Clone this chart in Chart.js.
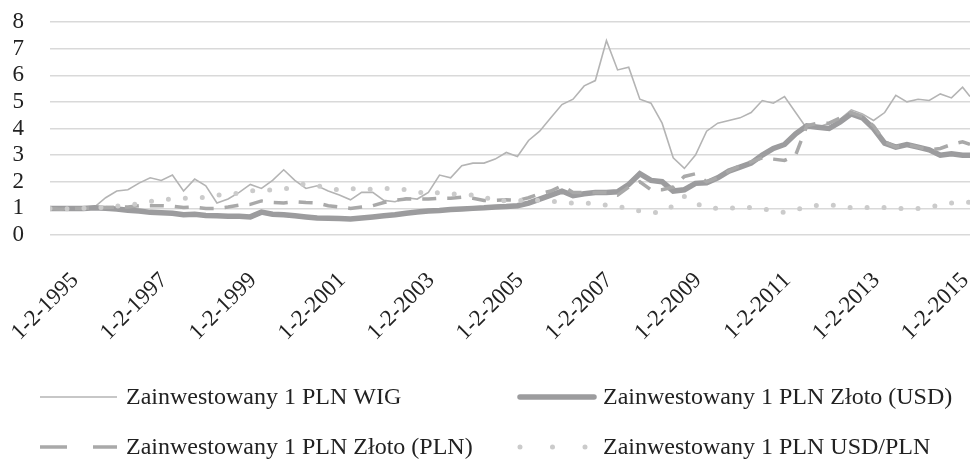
<!DOCTYPE html>
<html>
<head>
<meta charset="utf-8">
<script src="https://cdn.jsdelivr.net/npm/chart.js@4/dist/chart.umd.min.js"></script>
<style>
  html, body { margin:0; padding:0; background:#fff; }
  #wrap { width:975px; height:460px; }
</style>
</head>
<body>
<div id="wrap"><canvas id="chart" width="975" height="460"></canvas></div>
<script>
// Zainwestowany 1 PLN - WIG vs złoto vs USD/PLN (1995-2015)

// quarterly sample dates (YYYY-MM)
const DATES = [
  '1995-02','1995-05','1995-08','1995-11','1996-02','1996-05','1996-08','1996-11',
  '1997-02','1997-05','1997-08','1997-11','1998-02','1998-05','1998-08','1998-11',
  '1999-02','1999-05','1999-08','1999-11','2000-02','2000-05','2000-08','2000-11',
  '2001-02','2001-05','2001-08','2001-11','2002-02','2002-05','2002-08','2002-11',
  '2003-02','2003-05','2003-08','2003-11','2004-02','2004-05','2004-08','2004-11',
  '2005-02','2005-05','2005-08','2005-11','2006-02','2006-05','2006-08','2006-11',
  '2007-02','2007-05','2007-08','2007-11','2008-02','2008-05','2008-08','2008-11',
  '2009-02','2009-05','2009-08','2009-11','2010-02','2010-05','2010-08','2010-11',
  '2011-02','2011-05','2011-08','2011-11','2012-02','2012-05','2012-08','2012-11',
  '2013-02','2013-05','2013-08','2013-11','2014-02','2014-05','2014-08','2014-11',
  '2015-02','2015-05','2015-08','2015-10'
];

const WIG = [
  1.0,0.97,1.02,1.0, 1.05,1.4,1.65,1.7, 1.95,2.15,2.05,2.25, 1.65,2.1,1.85,1.2,
  1.35,1.6,1.9,1.75, 2.05,2.45,2.05,1.75, 1.85,1.65,1.5,1.32, 1.6,1.6,1.3,1.25,
  1.4,1.35,1.6,2.25, 2.15,2.6,2.7,2.7, 2.85,3.1,2.95,3.55, 3.9,4.4,4.9,5.1,
  5.6,5.8,7.3,6.2, 6.3,5.1,4.95,4.2, 2.9,2.5,3.0,3.9, 4.2,4.3,4.4,4.6,
  5.05,4.95,5.2,4.6, 4.0,4.05,4.2,4.35, 4.7,4.55,4.3,4.6, 5.25,5.0,5.1,5.05,
  5.3,5.15,5.55,5.2
];

const GOLD_USD = [
  1.0,1.0,1.0,1.0, 1.02,1.0,0.98,0.93, 0.9,0.85,0.84,0.82, 0.76,0.78,0.73,0.72,
  0.7,0.7,0.68,0.86, 0.78,0.76,0.72,0.68, 0.64,0.63,0.62,0.6, 0.64,0.68,0.72,0.76,
  0.82,0.86,0.9,0.92, 0.96,0.98,1.0,1.02, 1.05,1.07,1.1,1.2, 1.35,1.5,1.65,1.48,
  1.55,1.6,1.6,1.62, 1.9,2.3,2.05,2.0, 1.65,1.7,1.94,1.96, 2.15,2.4,2.55,2.7,
  3.0,3.25,3.4,3.8, 4.1,4.05,4.0,4.25, 4.55,4.4,4.0,3.45, 3.3,3.4,3.3,3.2,
  3.0,3.05,3.0,3.0
];

const GOLD_PLN = [
  1.0,0.97,1.0,1.0, 1.02,1.03,1.05,1.05, 1.1,1.1,1.1,1.08, 1.03,1.05,1.0,1.0,
  1.05,1.12,1.15,1.28, 1.22,1.2,1.25,1.22, 1.2,1.1,1.05,1.0, 1.05,1.1,1.22,1.3,
  1.35,1.35,1.35,1.38, 1.38,1.42,1.38,1.3, 1.3,1.32,1.3,1.4, 1.55,1.65,1.85,1.6,
  1.6,1.6,1.6,1.5, 1.8,2.0,1.7,1.7, 1.8,2.2,2.3,2.0, 2.15,2.4,2.6,2.75,
  2.9,2.85,2.8,3.0, 4.1,4.2,4.2,4.4, 4.6,4.45,4.1,3.5, 3.3,3.4,3.3,3.2,
  3.25,3.4,3.5,3.4
];

const USD_PLN = [
  1.0,0.98,0.99,1.0, 1.02,1.05,1.09,1.12, 1.18,1.26,1.3,1.37, 1.38,1.38,1.42,1.5,
  1.5,1.58,1.65,1.69, 1.69,1.72,1.84,1.93, 1.86,1.75,1.7,1.75, 1.7,1.72,1.75,1.75,
  1.7,1.63,1.52,1.6, 1.55,1.52,1.5,1.45, 1.25,1.3,1.32,1.25, 1.32,1.28,1.22,1.2,
  1.2,1.19,1.12,1.08, 0.98,0.9,0.84,0.86, 1.1,1.45,1.2,1.02, 1.0,1.0,1.05,1.03,
  0.98,0.92,0.85,0.95, 1.05,1.12,1.13,1.1, 1.02,1.02,1.05,1.03, 1.0,1.0,1.0,1.05,
  1.12,1.2,1.22,1.23
];

const SERIES_NAMES = [
  'Zainwestowany 1 PLN WIG',
  'Zainwestowany 1 PLN Złoto (USD)',
  'Zainwestowany 1 PLN Złoto (PLN)',
  'Zainwestowany 1 PLN USD/PLN'
];

const TICK_DATES = ['1995-02','1997-02','1999-02','2001-02','2003-02','2005-02','2007-02','2009-02','2011-02','2013-02','2015-02'];
const X_MIN = '1995-02', X_MAX = '2015-10';

function toYear(s) {
  const [y, m] = s.split('-').map(Number);
  return y + (m - 1) / 12;
}
function pts(values) {
  return values.map((v, i) => ({ x: toYear(DATES[i]), y: v }));
}

const FONT = '"Liberation Serif", "Times New Roman", serif';
const TEXT = '#222';

// legend drawn by hand: two columns, long line samples like in Excel
const legendPlugin = {
  id: 'excelLegend',
  afterDraw(chart) {
    const ctx = chart.ctx;
    const colX = [40, 517], rowY = [397, 447];
    chart.data.datasets.forEach((ds, i) => {
      const x = colX[i % 2], y = rowY[Math.floor(i / 2)];
      ctx.save();
      ctx.strokeStyle = ds.borderColor;
      ctx.lineWidth = ds.borderWidth;
      ctx.lineCap = ds.legendCap;
      ctx.setLineDash(ds.legendDash);
      ctx.beginPath();
      ctx.moveTo(x + (ds.legendCap === 'round' ? 3 : 0), y);
      ctx.lineTo(x + 77, y);
      ctx.stroke();
      ctx.setLineDash([]);
      ctx.fillStyle = TEXT;
      ctx.font = '24px ' + FONT;
      ctx.textBaseline = 'middle';
      ctx.fillText(ds.label, x + 86, y + 1);
      ctx.restore();
    });
  }
};

new Chart(document.getElementById('chart'), {
  type: 'line',
  data: {
    datasets: [
      { label: SERIES_NAMES[0], data: pts(WIG), borderColor: '#b4b4b4', borderWidth: 1.6,
        order: 4, legendDash: [], legendCap: 'butt' },
      { label: SERIES_NAMES[1], data: pts(GOLD_USD), borderColor: '#9c9c9e', borderWidth: 5.5,
        order: 3, legendDash: [], legendCap: 'round' },
      { label: SERIES_NAMES[2], data: pts(GOLD_PLN), borderColor: '#a9a9a9', borderWidth: 3.5,
        borderDash: [14, 11], order: 2, legendDash: [27, 26], legendCap: 'butt' },
      { label: SERIES_NAMES[3], data: pts(USD_PLN), borderColor: '#cbcbcb', borderWidth: 5,
        borderDash: [0, 17], borderCapStyle: 'round', order: 1,
        legendDash: [0, 32.5], legendCap: 'round' }
    ]
  },
  options: {
    responsive: false,
    animation: false,
    devicePixelRatio: 1,
    layout: { padding: { top: 22, right: 5, bottom: 0, left: 0 } },
    elements: { point: { radius: 0 }, line: { tension: 0 } },
    plugins: { legend: { display: false }, tooltip: { enabled: false } },
    scales: {
      x: {
        type: 'linear',
        min: toYear(X_MIN),
        max: toYear(X_MAX),
        grid: { display: false, drawTicks: false },
        border: { display: false },
        afterBuildTicks: s => { s.ticks = TICK_DATES.map(d => ({ value: toYear(d) })); },
        afterFit: s => { s.height = 225; s.paddingLeft = 0; s.paddingRight = 0; },
        ticks: {
          autoSkip: false,
          minRotation: 45,
          maxRotation: 45,
          padding: 32,
          labelOffset: 25,
          color: TEXT,
          font: { family: FONT, size: 23 },
          callback: v => '1-2-' + Math.round(v)
        }
      },
      y: {
        min: 0,
        max: 8,
        grid: { color: '#d9d9d9', lineWidth: 1.5, drawTicks: false },
        border: { display: false },
        afterFit: s => { s.width = 50; s.paddingTop = 0; s.paddingBottom = 0; },
        ticks: {
          stepSize: 1,
          autoSkip: false,
          padding: 26,
          color: TEXT,
          font: { family: FONT, size: 23, lineHeight: 1 }
        }
      }
    }
  },
  plugins: [legendPlugin]
});
</script>
</body>
</html>
